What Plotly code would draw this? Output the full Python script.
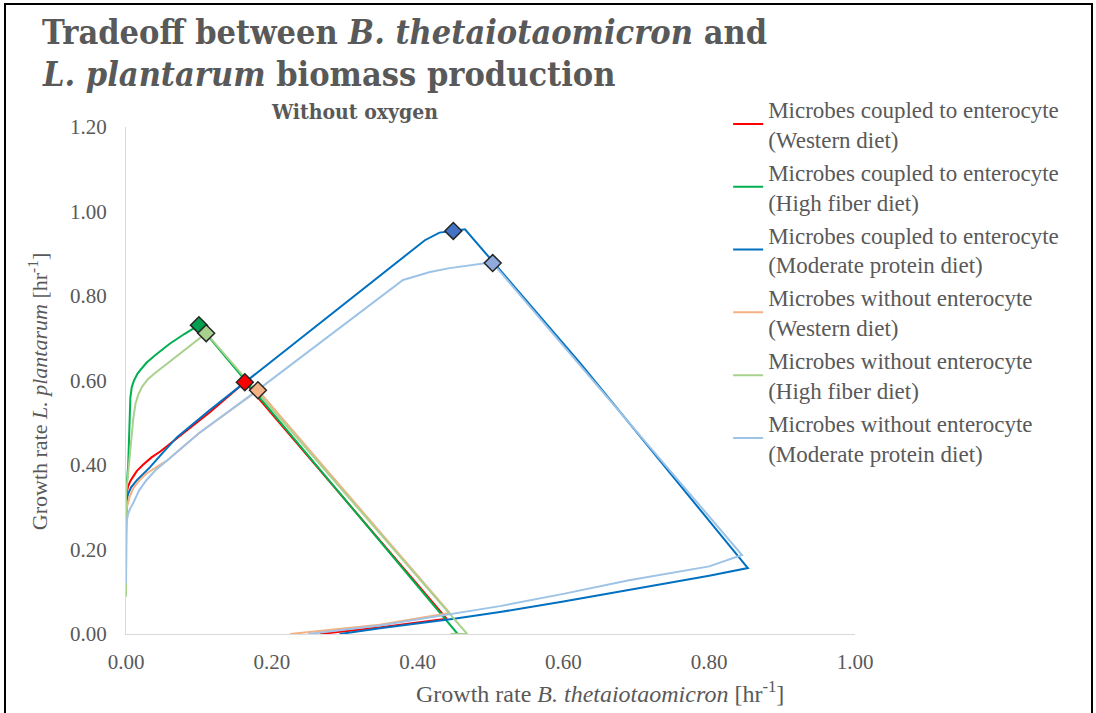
import plotly.graph_objects as go

# Growth-rate tradeoff curves (x: B. thetaiotaomicron, y: L. plantarum), hr^-1
red_x = [0, 0, 0.001, 0.003, 0.006, 0.01, 0.015, 0.023, 0.035, 0.047, 0.08, 0.115, 0.163,
         0.44, 0.35, 0.266]
red_y = [0.31, 0.317, 0.335, 0.35, 0.362, 0.373, 0.386, 0.4, 0.418, 0.432, 0.478, 0.525, 0.596,
         0.036, 0.016, 0.0]

green_x = [0, 0, 0.003, 0.005, 0.006, 0.008, 0.011, 0.016, 0.022, 0.028, 0.04, 0.06, 0.08, 0.1,
           0.455]
green_y = [0.2, 0.33, 0.4, 0.48, 0.56, 0.585, 0.6, 0.617, 0.63, 0.642, 0.66, 0.687, 0.71, 0.731,
           0.0]

blue_x = [0, 0, 0.001, 0.003, 0.007, 0.015, 0.023, 0.033, 0.05, 0.07, 0.115, 0.41, 0.43, 0.449,
          0.465, 0.623, 0.853, 0.8, 0.69, 0.6, 0.513, 0.45, 0.351, 0.293]
blue_y = [0.23, 0.30, 0.318, 0.332, 0.347, 0.364, 0.378, 0.395, 0.428, 0.466, 0.53, 0.932, 0.95,
          0.954, 0.958, 0.641, 0.156, 0.138, 0.104, 0.077, 0.052, 0.036, 0.014, 0.0]

orange_x = [0, 0, 0.002, 0.005, 0.01, 0.018, 0.028, 0.04, 0.051, 0.056, 0.1, 0.181,
            0.444, 0.348, 0.225]
orange_y = [0.27, 0.29, 0.305, 0.325, 0.345, 0.363, 0.38, 0.394, 0.405, 0.41, 0.475, 0.577,
            0.05, 0.022, 0.0]

lgreen_x = [0, 0, 0.004, 0.007, 0.01, 0.013, 0.017, 0.022, 0.03, 0.04, 0.055, 0.07, 0.09, 0.11,
            0.468, 0.445]
lgreen_y = [0.088, 0.33, 0.4, 0.46, 0.51, 0.545, 0.567, 0.585, 0.603, 0.618, 0.638, 0.657, 0.685,
            0.712, 0.0, 0.0]

lblue_x = [0, 0, 0.001, 0.003, 0.006, 0.01, 0.018, 0.028, 0.04, 0.056, 0.1, 0.175, 0.38, 0.417,
           0.444, 0.495, 0.503, 0.845, 0.8, 0.69, 0.6, 0.513, 0.45, 0.348, 0.25]
lblue_y = [0.12, 0.25, 0.268, 0.285, 0.298, 0.31, 0.34, 0.364, 0.387, 0.41, 0.475, 0.57, 0.838,
           0.857, 0.866, 0.878, 0.878, 0.187, 0.16, 0.127, 0.095, 0.066, 0.048, 0.02, 0.0]

# Highlighted optimum on each curve
opt_x = [0.163, 0.1, 0.449, 0.181, 0.11, 0.503]
opt_y = [0.596, 0.731, 0.954, 0.577, 0.712, 0.878]

names = [
    "Microbes coupled to enterocyte<br>(Western diet)",
    "Microbes coupled to enterocyte<br>(High fiber diet)",
    "Microbes coupled to enterocyte<br>(Moderate protein diet)",
    "Microbes without enterocyte<br>(Western diet)",
    "Microbes without enterocyte<br>(High fiber diet)",
    "Microbes without enterocyte<br>(Moderate protein diet)",
]
line_colors = ["#ff0000", "#00b050", "#0070c0", "#f4b183", "#a9d18e", "#9dc3e6"]
marker_colors = ["#ff0000", "#00a050", "#4472c4", "#f4b183", "#a9d18e", "#8faadc"]

xs = [red_x, green_x, blue_x, orange_x, lgreen_x, lblue_x]
ys = [red_y, green_y, blue_y, orange_y, lgreen_y, lblue_y]

FONT = "Liberation Serif"
BOLD_FONT = "DejaVu Serif Condensed"
GRAY = "#595959"

fig = go.Figure()
for x, y, name, c in zip(xs, ys, names, line_colors):
    fig.add_trace(go.Scatter(x=x, y=y, mode="lines", name=name,
                             line=dict(color=c, width=2)))
for i in range(len(opt_x)):
    fig.add_trace(go.Scatter(x=[opt_x[i]], y=[opt_y[i]], mode="markers", showlegend=False,
                             marker=dict(symbol="diamond", size=13, color=marker_colors[i],
                                         line=dict(color="#262626", width=1.5))))

axis_common = dict(showgrid=False, zeroline=False, showline=True, linecolor="#d9d9d9",
                   linewidth=1, ticks="", tickformat=".2f",
                   tickfont=dict(family=FONT, size=21, color=GRAY))
fig.update_xaxes(range=[0, 1], dtick=0.2, ticklabelstandoff=9, **axis_common)
fig.update_yaxes(range=[0, 1.2], dtick=0.2, ticklabelstandoff=14, **axis_common)


def label(text, x, y, size, family=FONT, **kw):
    return dict(text=text, x=x, y=y, xref="paper", yref="paper", showarrow=False,
                font=dict(family=family, size=size, color=GRAY), **kw)


fig.update_layout(
    width=1096, height=713,
    margin=dict(l=126, r=241, t=127, b=79),
    paper_bgcolor="white", plot_bgcolor="white",
    showlegend=True,
    legend=dict(x=0.826, y=1.0778, xanchor="left", yanchor="top", maxheight=650,
                font=dict(family=FONT, size=23, color=GRAY),
                bgcolor="rgba(0,0,0,0)"),
    annotations=[
        label("<b>Tradeoff between <i>B. thetaiotaomicron</i> and</b>",
              -0.118, 1.187, 34, family=BOLD_FONT, xanchor="left", yanchor="middle"),
        label("<b><i>L. plantarum</i> biomass production</b>",
              -0.118, 1.1045, 34, family=BOLD_FONT, xanchor="left", yanchor="middle"),
        label("<b>Without oxygen</b>", 0.3128, 1.0296, 21, family=BOLD_FONT,
              xanchor="center", yanchor="middle"),
        label("Growth rate <i>B. thetaiotaomicron</i> [hr<sup>-1</sup>]",
              0.650, -0.114, 24, xanchor="center", yanchor="middle"),
        label("Growth rate <i>L. plantarum</i> [hr<sup>-1</sup>]",
              -0.1207, 0.477, 22, xanchor="center", yanchor="middle", textangle=-90),
    ],
    shapes=[dict(type="rect", xref="paper", yref="paper",
                 x0=(5 - 126) / 729, x1=(1092 - 126) / 729,
                 y0=(634 - 720) / 507, y1=(634 - 4) / 507,
                 line=dict(color="black", width=2), fillcolor="rgba(0,0,0,0)")],
)

fig.write_html("out.html")
